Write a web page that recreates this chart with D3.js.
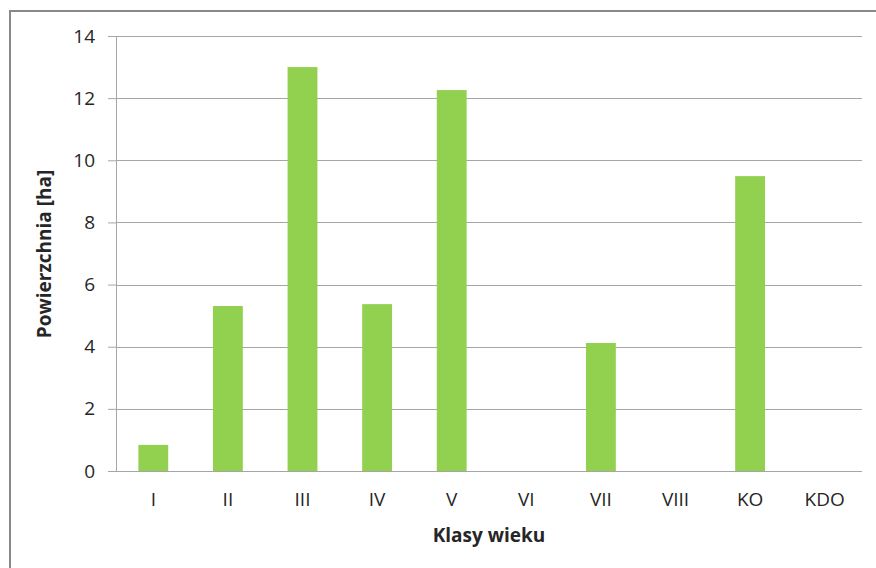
<!DOCTYPE html>
<html>
<head>
<meta charset="utf-8">
<script src="https://cdn.jsdelivr.net/npm/d3@7"></script>
<style>
  body { margin: 0; background: #fff; }
  text { font-family: "Open Sans", sans-serif; fill: #262626; }
</style>
</head>
<body>
<script>
// data
const classes = ['I', 'II', 'III', 'IV', 'V', 'VI', 'VII', 'VIII', 'KO', 'KDO']
const area = [0.84, 5.31, 13.0, 5.37, 12.26, 0, 4.12, 0, 9.49, 0]
const yTicks = [0, 2, 4, 6, 8, 10, 12, 14]

const W = 876, H = 568
const margin = { top: 36, right: 14, bottom: 97, left: 116 }
    , width = 862 - margin.left
    , height = 471 - margin.top

const svg = d3.select('body').append('svg')
    .attr('width', W)
    .attr('height', H)

// chart frame
svg.append('rect')
    .attr('x', 10).attr('y', 11)
    .attr('width', W + 20).attr('height', H + 20)
    .attr('fill', 'none')
    .attr('stroke', '#898989')
    .attr('stroke-width', 2)

const x = d3.scaleBand()
    .domain(classes)
    .range([margin.left, margin.left + width])
    .paddingInner(0.6)
    .paddingOuter(0.3)

const y = d3.scaleLinear()
    .domain([0, 14])
    .range([margin.top + height, margin.top])

// gridlines + y axis
const yAxis = svg.append('g')
    .attr('transform', 'translate(' + margin.left + ',0)')
    .call(d3.axisLeft(y).tickValues(yTicks).tickSize(8).tickPadding(13))
yAxis.select('.domain').attr('stroke', '#a6a6a6')
yAxis.selectAll('.tick line').attr('stroke', '#a6a6a6')
yAxis.selectAll('.tick text').style('font-size', '19px').attr('fill', '#262626')

svg.append('g').selectAll('line')
    .data(yTicks)
    .enter().append('line')
    .attr('x1', margin.left).attr('x2', margin.left + width)
    .attr('y1', d => Math.round(y(d)) + 0.5).attr('y2', d => Math.round(y(d)) + 0.5)
    .attr('stroke', '#a6a6a6')

// bars
svg.selectAll('.bar').data(area)
    .enter().append('rect')
    .attr('x', (d, i) => x(classes[i]))
    .attr('y', d => y(d))
    .attr('width', x.bandwidth())
    .attr('height', d => y(0) - y(d))
    .attr('fill', '#92d050')

// x axis labels
const xAxis = svg.append('g')
    .attr('transform', 'translate(0,' + (margin.top + height) + ')')
    .call(d3.axisBottom(x).tickSize(0).tickPadding(22))
xAxis.select('.domain').remove()
xAxis.selectAll('.tick text').style('font-size', '19px').attr('fill', '#262626')

// axis titles
svg.append('text')
    .attr('text-anchor', 'middle')
    .attr('x', 489).attr('y', 542)
    .style('font-size', '19px')
    .style('font-weight', 'bold')
    .text('Klasy wieku')

svg.append('text')
    .attr('text-anchor', 'middle')
    .attr('transform', 'translate(51,' + 254 + ')rotate(-90)')
    .style('font-size', '19px')
    .style('font-weight', 'bold')
    .text('Powierzchnia [ha]')
</script>
</body>
</html>
